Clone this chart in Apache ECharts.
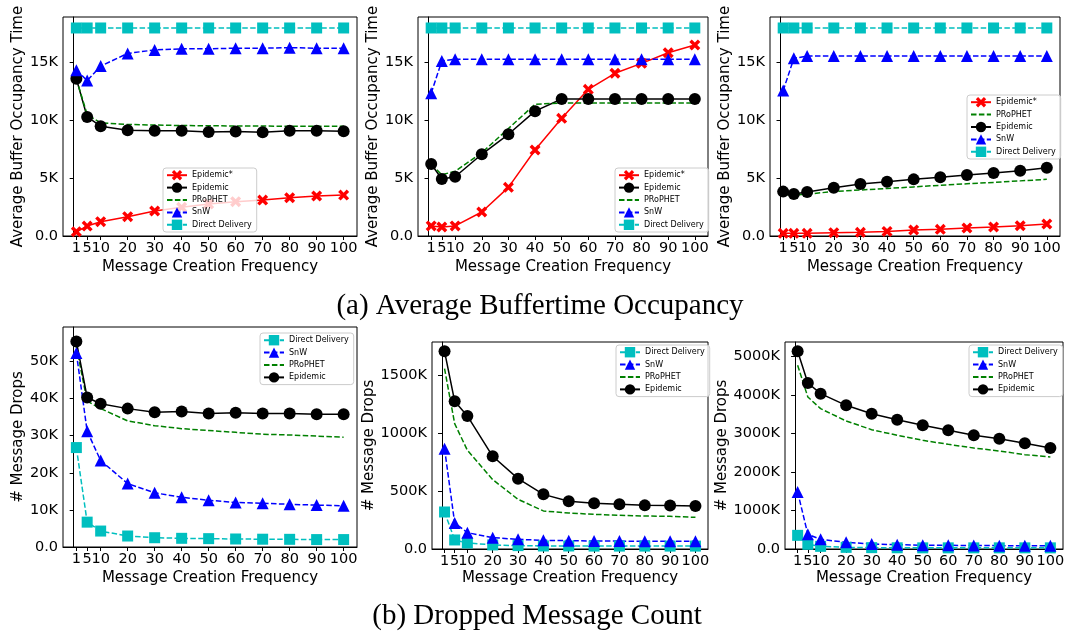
<!DOCTYPE html>
<html>
<head>
<meta charset="utf-8">
<script src="https://cdn.jsdelivr.net/npm/echarts@6/dist/echarts.min.js"></script>
<style>html,body{margin:0;padding:0;background:#fff}#c{width:1068px;height:632px}</style>
</head>
<body>
<div id="c"></div>
<script>
// ---- data ----
var xVals = [1, 5, 10, 20, 30, 40, 50, 60, 70, 80, 90, 100];
var xTicks = [1, 5, 10, 20, 30, 40, 50, 60, 70, 80, 90, 100];

// (a) Average Buffer Occupancy, panel 1
var a1EpidemicStar = [370, 860, 1240, 1670, 2160, 2480, 2770, 2970, 3110, 3310, 3460, 3540];
var a1Epidemic = [13600, 10300, 9500, 9160, 9100, 9100, 9000, 9050, 8980, 9100, 9100, 9070];
var a1Prophet = [13600, 10500, 9800, 9650, 9600, 9560, 9540, 9520, 9510, 9500, 9500, 9490];
var a1SnW = [14350, 13450, 14700, 15800, 16100, 16200, 16200, 16250, 16250, 16300, 16250, 16250];
var a1Direct = [18000, 18000, 18000, 18000, 18000, 18000, 18000, 18000, 18000, 18000, 18000, 18000];
// panel 2
var a2EpidemicStar = [870, 780, 870, 2080, 4210, 7440, 10180, 12690, 14080, 14940, 15860, 16530];
var a2Epidemic = [6230, 4930, 5130, 7070, 8800, 10800, 11850, 11850, 11850, 11850, 11850, 11850];
var a2Prophet = [6200, 5300, 5600, 7200, 9300, 11400, 11500, 11500, 11500, 11500, 11500, 11500];
var a2SnW = [12350, 15150, 15300, 15300, 15300, 15300, 15300, 15300, 15300, 15300, 15300, 15300];
var a2Direct = [18000, 18000, 18000, 18000, 18000, 18000, 18000, 18000, 18000, 18000, 18000, 18000];
// panel 3
var a3EpidemicStar = [230, 230, 230, 290, 320, 400, 520, 580, 690, 780, 890, 1040];
var a3Prophet = [3600, 3550, 3620, 3850, 3980, 4110, 4250, 4390, 4520, 4640, 4770, 4900];
var a3Epidemic = [3840, 3630, 3800, 4180, 4500, 4700, 4900, 5080, 5280, 5450, 5650, 5910];
var a3SnW = [12580, 15370, 15570, 15570, 15570, 15570, 15570, 15570, 15570, 15570, 15570, 15570];
var a3Direct = [18000, 18000, 18000, 18000, 18000, 18000, 18000, 18000, 18000, 18000, 18000, 18000];

// (b) Dropped Message Count, panel 4
var b1Direct = [26800, 6700, 4300, 2960, 2500, 2340, 2250, 2160, 2100, 2070, 2000, 2000];
var b1SnW = [52300, 31200, 23300, 17100, 14600, 13400, 12600, 12000, 11800, 11500, 11300, 11100];
var b1Prophet = [54000, 39300, 37300, 34000, 32700, 31900, 31400, 30900, 30400, 30200, 29900, 29600];
var b1Epidemic = [55400, 40300, 38600, 37300, 36300, 36500, 36000, 36200, 36000, 36000, 35800, 35800];
// panel 5
var b2Direct = [319000, 78000, 52000, 35000, 29000, 26000, 26000, 25000, 25000, 25000, 25000, 25000];
var b2SnW = [865000, 224000, 141000, 98000, 83000, 75000, 72000, 69000, 68000, 67000, 66000, 66000];
var b2Prophet = [1555000, 1080000, 851000, 598000, 428000, 328000, 310000, 299000, 290000, 284000, 282000, 273000];
var b2Epidemic = [1704000, 1273000, 1147000, 799000, 606000, 471000, 411000, 394000, 385000, 376000, 374000, 371000];
// panel 6
var b3Direct = [355000, 121000, 69000, 43000, 35000, 32000, 30000, 30000, 30000, 30000, 30000, 30000];
var b3SnW = [1482000, 381000, 251000, 173000, 130000, 113000, 95000, 95000, 93000, 87000, 87000, 87000];
var b3Prophet = [4775000, 3951000, 3648000, 3328000, 3102000, 2955000, 2825000, 2721000, 2626000, 2548000, 2452000, 2392000];
var b3Epidemic = [5139000, 4315000, 4038000, 3735000, 3518000, 3362000, 3215000, 3085000, 2955000, 2868000, 2747000, 2626000];

var yTicksA = [0, 5000, 10000, 15000];
var yTicksB1 = [0, 10000, 20000, 30000, 40000, 50000];
var yTicksB2 = [0, 500000, 1000000, 1500000];
var yTicksB3 = [0, 1000000, 2000000, 3000000, 4000000, 5000000];

// ---- styles ----
var FONT = 'DejaVu Sans';
var XPATH = 'path://M0.22,0 L0.5,0.28 L0.78,0 L1,0.22 L0.72,0.5 L1,0.78 L0.78,1 L0.5,0.72 L0.22,1 L0,0.78 L0.28,0.5 L0,0.22 Z';
var DASH = [5.5, 2.4];
var styles = {
  'Epidemic*': {color: '#ff0000', type: 'solid', symbol: XPATH, size: 11},
  'Epidemic': {color: '#000000', type: 'solid', symbol: 'circle', size: 12},
  'PRoPHET': {color: '#008000', type: DASH, symbol: 'none', size: 0},
  'SnW': {color: '#0000ff', type: DASH, symbol: 'triangle', size: 12},
  'Direct Delivery': {color: '#00bfbf', type: DASH, symbol: 'rect', size: 11}
};

function mk(name, vals, idx) {
  var s = styles[name];
  return {
    name: name, type: 'line', xAxisIndex: idx, yAxisIndex: idx,
    data: xVals.map(function (x, i) { return [x, vals[i]]; }),
    symbol: s.symbol, symbolSize: s.size, showSymbol: s.symbol !== 'none',
    lineStyle: {color: s.color, width: 1.5, type: s.type},
    itemStyle: {color: s.color, borderWidth: 0},
    emphasis: {disabled: true}, animation: false
  };
}

var grids = [
  {left: 63, top: 17, width: 294, height: 219},
  {left: 418, top: 17, width: 290, height: 219},
  {left: 770, top: 17, width: 290, height: 219},
  {left: 63, top: 327, width: 294, height: 220},
  {left: 432, top: 342, width: 276, height: 207},
  {left: 785, top: 342, width: 278, height: 207}
];
grids.forEach(function (g) { g.show = true; g.borderColor = '#000'; g.borderWidth = 1; g.backgroundColor = 'transparent'; });

function fmtK(v) { return v === 0 ? '0.0' : (v / 1000) + 'K'; }

var xGaps = [24, 24, 24, 24, 22, 22];
var xAxes = grids.map(function (g, i) {
  return {
    type: 'value', gridIndex: i, min: -3.95, max: 104.95,
    name: 'Message Creation Frequency', nameLocation: 'middle', nameGap: xGaps[i],
    nameTextStyle: {fontFamily: FONT, fontSize: 15, color: '#000'},
    axisLine: {show: true, lineStyle: {color: '#000', width: 1}},
    axisTick: {show: true, inside: false, length: 4, lineStyle: {color: '#000'}, customValues: xTicks},
    axisLabel: {show: true, color: '#000', fontFamily: FONT, fontSize: 14.5, margin: 5, customValues: xTicks},
    splitLine: {show: false}
  };
});

var yInfo = [
  {max: 18950, ticks: yTicksA, name: 'Average Buffer Occupancy Time', gap: 37},
  {max: 18950, ticks: yTicksA, name: 'Average Buffer Occupancy Time', gap: 37},
  {max: 18950, ticks: yTicksA, name: 'Average Buffer Occupancy Time', gap: 37},
  {max: 59300, ticks: yTicksB1, name: '# Message Drops', gap: 37},
  {max: 1784000, ticks: yTicksB2, name: '# Message Drops', gap: 48},
  {max: 5381000, ticks: yTicksB3, name: '# Message Drops', gap: 52}
];
var yAxes = yInfo.map(function (y, i) {
  return {
    type: 'value', gridIndex: i, min: 0, max: y.max,
    name: y.name, nameLocation: 'middle', nameGap: y.gap,
    nameTextStyle: {fontFamily: FONT, fontSize: 15, color: '#000'},
    axisLine: {show: true, lineStyle: {color: '#000', width: 1}},
    axisTick: {show: true, inside: false, length: 4, lineStyle: {color: '#000'}, customValues: y.ticks},
    axisLabel: {show: true, color: '#000', fontFamily: FONT, fontSize: 14.5, margin: 5, formatter: fmtK, customValues: y.ticks},
    splitLine: {show: false}
  };
});

var series = [
  mk('Epidemic*', a1EpidemicStar, 0), mk('Epidemic', a1Epidemic, 0), mk('PRoPHET', a1Prophet, 0), mk('SnW', a1SnW, 0), mk('Direct Delivery', a1Direct, 0),
  mk('Epidemic*', a2EpidemicStar, 1), mk('Epidemic', a2Epidemic, 1), mk('PRoPHET', a2Prophet, 1), mk('SnW', a2SnW, 1), mk('Direct Delivery', a2Direct, 1),
  mk('Epidemic*', a3EpidemicStar, 2), mk('PRoPHET', a3Prophet, 2), mk('Epidemic', a3Epidemic, 2), mk('SnW', a3SnW, 2), mk('Direct Delivery', a3Direct, 2),
  mk('Direct Delivery', b1Direct, 3), mk('SnW', b1SnW, 3), mk('PRoPHET', b1Prophet, 3), mk('Epidemic', b1Epidemic, 3),
  mk('Direct Delivery', b2Direct, 4), mk('SnW', b2SnW, 4), mk('PRoPHET', b2Prophet, 4), mk('Epidemic', b2Epidemic, 4),
  mk('Direct Delivery', b3Direct, 5), mk('SnW', b3SnW, 5), mk('PRoPHET', b3Prophet, 5), mk('Epidemic', b3Epidemic, 5)
];

function lg(left, top, names) {
  return {
    orient: 'vertical', left: left, top: top, selectedMode: false,
    data: names.map(function (n) {
      return n === 'PRoPHET' ? {name: n, itemStyle: {opacity: 0}} : {name: n};
    }),
    itemWidth: 20, itemHeight: 13, itemGap: 2,
    textStyle: {fontFamily: FONT, fontSize: 8, color: '#000'},
    padding: [2, 5, 2, 3], borderColor: '#cccccc', borderWidth: 1, borderRadius: 3,
    backgroundColor: 'rgba(255,255,255,0.8)'
  };
}
var namesA = ['Epidemic*', 'Epidemic', 'PRoPHET', 'SnW', 'Direct Delivery'];
var namesA3 = ['Epidemic*', 'PRoPHET', 'Epidemic', 'SnW', 'Direct Delivery'];
var namesB = ['Direct Delivery', 'SnW', 'PRoPHET', 'Epidemic'];

var option = {
  animation: false,
  backgroundColor: '#ffffff',
  grid: grids, xAxis: xAxes, yAxis: yAxes, series: series,
  legend: [lg(163, 168, namesA), lg(615, 168, namesA), lg(967, 95, namesA3), lg(260, 333, namesB), lg(616, 345, namesB), lg(969, 345, namesB)],
  graphic: [
    {type: 'text', x: 540, y: 306, style: {text: '(a) Average Buffertime Occupancy', fontFamily: 'Liberation Serif', fontSize: 29, fill: '#000', align: 'center', verticalAlign: 'middle'}},
    {type: 'text', x: 537, y: 616, style: {text: '(b) Dropped Message Count', fontFamily: 'Liberation Serif', fontSize: 29, fill: '#000', align: 'center', verticalAlign: 'middle'}}
  ]
};
echarts.init(document.getElementById('c'), null, {renderer: 'canvas'}).setOption(option);
</script>
</body>
</html>
